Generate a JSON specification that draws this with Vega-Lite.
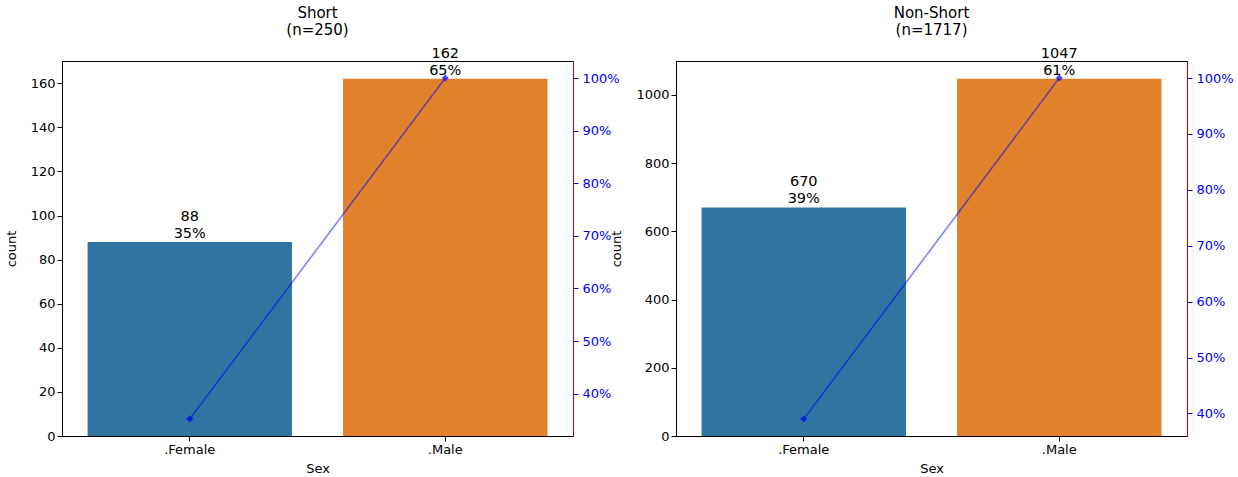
{
  "$schema": "https://vega.github.io/schema/vega-lite/v6.json",
  "background": "white",
  "padding": {"left": 4, "top": 5, "right": 5, "bottom": 5},
  "bounds": "flush",
  "spacing": 103,
  "datasets": {
    "short": [
      {"sex": ".Female", "count": 88, "cum": 0.352, "label": "88\n35%"},
      {"sex": ".Male", "count": 162, "cum": 1.0, "label": "162\n65%"}
    ],
    "nonshort": [
      {"sex": ".Female", "count": 670, "cum": 0.3902, "label": "670\n39%"},
      {"sex": ".Male", "count": 1047, "cum": 1.0, "label": "1047\n61%"}
    ]
  },
  "config": {
    "font": "DejaVu Sans",
    "view": {"stroke": "black", "strokeWidth": 1},
    "axis": {"labelFont": "DejaVu Sans", "titleFont": "DejaVu Sans", "labelFontSize": 13, "titleFontSize": 13, "titleFontWeight": "normal", "labelColor": "black", "titleColor": "black", "grid": false, "tickColor": "black", "domainColor": "black", "tickSize": 5},
    "title": {"font": "DejaVu Sans", "fontSize": 15, "fontWeight": "normal", "color": "black"},
    "text": {"font": "DejaVu Sans"}
  },
  "hconcat": [
    {
      "width": 511, "height": 375,
      "title": {"text": ["Short", "(n=250)"], "offset": 8},
      "data": {"name": "short"},
      "layer": [
        {
          "layer": [
            {
              "mark": {"type": "bar"},
              "encoding": {
                "x": {"field": "sex", "type": "nominal", "sort": [".Female", ".Male"], "scale": {"paddingInner": 0.2, "paddingOuter": 0.1}, "axis": {"title": "Sex", "labelAngle": 0, "titlePadding": 6}},
                "y": {"field": "count", "type": "quantitative", "scale": {"domain": [0, 170.1], "nice": false}, "axis": {"title": "count", "format": "d", "values": [0, 20, 40, 60, 80, 100, 120, 140, 160], "titlePadding": 12}},
                "color": {"field": "sex", "type": "nominal", "scale": {"domain": [".Female", ".Male"], "range": ["#3274a1", "#e1812c"]}, "legend": null}
              }
            },
            {
              "mark": {"type": "text", "baseline": "bottom", "lineBreak": "\n", "lineHeight": 17, "fontSize": 14.5, "dy": -18, "color": "black"},
              "encoding": {
                "x": {"field": "sex", "type": "nominal", "sort": [".Female", ".Male"]},
                "y": {"field": "count", "type": "quantitative"},
                "text": {"field": "label"}
              }
            }
          ]
        },
        {
          "layer": [
            {
              "mark": {"type": "line", "color": "blue", "opacity": 0.5, "strokeWidth": 1.6},
              "encoding": {
                "x": {"field": "sex", "type": "nominal", "sort": [".Female", ".Male"], "bandPosition": 0.5},
                "y": {"field": "cum", "type": "quantitative", "scale": {"domain": [0.3196, 1.0324], "nice": false}, "axis": {"orient": "right", "title": null, "format": ".0%", "values": [0.4, 0.5, 0.6, 0.7, 0.8, 0.9, 1.0], "labelColor": "blue", "tickColor": "blue", "domainColor": "#c00000", "labelPadding": 4}}
              }
            },
            {
              "mark": {"type": "point", "shape": "diamond", "filled": true, "color": "blue", "opacity": 0.7, "size": 50},
              "encoding": {
                "x": {"field": "sex", "type": "nominal", "sort": [".Female", ".Male"], "bandPosition": 0.5},
                "y": {"field": "cum", "type": "quantitative"}
              }
            }
          ]
        }
      ],
      "resolve": {"scale": {"y": "independent"}, "axis": {"y": "independent"}}
    },
    {
      "width": 511, "height": 375,
      "title": {"text": ["Non-Short", "(n=1717)"], "offset": 8},
      "data": {"name": "nonshort"},
      "layer": [
        {
          "layer": [
            {
              "mark": {"type": "bar"},
              "encoding": {
                "x": {"field": "sex", "type": "nominal", "sort": [".Female", ".Male"], "scale": {"paddingInner": 0.2, "paddingOuter": 0.1}, "axis": {"title": "Sex", "labelAngle": 0, "titlePadding": 6}},
                "y": {"field": "count", "type": "quantitative", "scale": {"domain": [0, 1099.35], "nice": false}, "axis": {"title": "count", "format": "d", "values": [0, 200, 400, 600, 800, 1000], "titlePadding": 12}},
                "color": {"field": "sex", "type": "nominal", "scale": {"domain": [".Female", ".Male"], "range": ["#3274a1", "#e1812c"]}, "legend": null}
              }
            },
            {
              "mark": {"type": "text", "baseline": "bottom", "lineBreak": "\n", "lineHeight": 17, "fontSize": 14.5, "dy": -18, "color": "black"},
              "encoding": {
                "x": {"field": "sex", "type": "nominal", "sort": [".Female", ".Male"]},
                "y": {"field": "count", "type": "quantitative"},
                "text": {"field": "label"}
              }
            }
          ]
        },
        {
          "layer": [
            {
              "mark": {"type": "line", "color": "blue", "opacity": 0.5, "strokeWidth": 1.6},
              "encoding": {
                "x": {"field": "sex", "type": "nominal", "sort": [".Female", ".Male"], "bandPosition": 0.5},
                "y": {"field": "cum", "type": "quantitative", "scale": {"domain": [0.3597, 1.0305], "nice": false}, "axis": {"orient": "right", "title": null, "format": ".0%", "values": [0.4, 0.5, 0.6, 0.7, 0.8, 0.9, 1.0], "labelColor": "blue", "tickColor": "blue", "domainColor": "#c00000", "labelPadding": 4}}
              }
            },
            {
              "mark": {"type": "point", "shape": "diamond", "filled": true, "color": "blue", "opacity": 0.7, "size": 50},
              "encoding": {
                "x": {"field": "sex", "type": "nominal", "sort": [".Female", ".Male"], "bandPosition": 0.5},
                "y": {"field": "cum", "type": "quantitative"}
              }
            }
          ]
        }
      ],
      "resolve": {"scale": {"y": "independent"}, "axis": {"y": "independent"}}
    }
  ]
}
